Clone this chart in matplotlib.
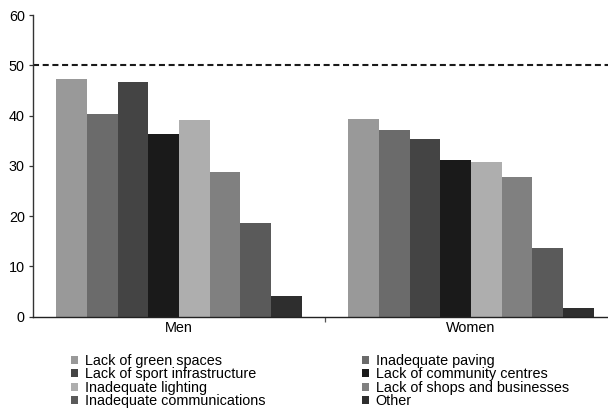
import matplotlib
matplotlib.use("Agg")
import matplotlib.pyplot as plt
import numpy as np

plt.rcParams['font.family'] = ['Liberation Sans', 'DejaVu Sans']

groups = ["Men", "Women"]
series = ["Lack of green spaces", "Inadequate paving", "Lack of sport infrastructure",
          "Lack of community centres", "Inadequate lighting", "Lack of shops and businesses",
          "Inadequate communications", "Other"]
men = [47.3, 40.3, 46.7, 36.3, 39.1, 28.8, 18.6, 4.2]
women = [39.3, 37.1, 35.3, 31.2, 30.8, 27.8, 13.7, 1.7]
colors = ["#999999", "#6b6b6b", "#444444", "#1a1a1a", "#aeaeae", "#808080", "#5a5a5a", "#2e2e2e"]
reference = 50

fig = plt.figure(figsize=(6.08, 4.2), dpi=100)
ax = fig.add_axes([33/608, (420-316.7)/420, (617-33)/608, 301.7/420])

n = len(series)
group_w = 0.842
bw = group_w / n
x = np.arange(len(groups))
vals = np.array([men, women])
handles = []
for i in range(n):
    pos = x - group_w/2 + bw*(i + 0.5)
    b = ax.bar(pos, vals[:, i], width=bw, color=colors[i], edgecolor='none', label=series[i])
    handles.append(b)

ax.axhline(reference, color='#1a1a1a', linestyle=(0, (2.9, 1.75)), linewidth=1.5)

fs = 10.4
ax.set_xlim(-0.5, 1.5)
ax.set_ylim(0, 60)
ax.set_yticks([0, 10, 20, 30, 40, 50, 60])
ax.tick_params(axis='y', labelsize=fs, length=3, width=0.9, direction='out', pad=3,
               color='#333333')
ax.set_xticks([0.5])
ax.set_xticklabels([])
ax.tick_params(axis='x', which='major', length=3.5, width=0.9, direction='out', color='#555555')
ax.set_xticks(x, minor=True)
ax.set_xticklabels(groups, minor=True, fontsize=fs)
ax.tick_params(axis='x', which='minor', length=0, pad=3)
for s in ['top', 'right']:
    ax.spines[s].set_visible(False)
ax.spines['left'].set_color('#333333')
ax.spines['bottom'].set_color('#222222')
ax.spines['left'].set_linewidth(1.0)
ax.spines['bottom'].set_linewidth(1.0)

order = [0, 2, 4, 6, 1, 3, 5, 7]
leg = fig.legend([handles[i] for i in order], [series[i] for i in order], ncol=2,
                 frameon=False, fontsize=fs, loc='upper left',
                 bbox_to_anchor=(58/608, 1 - 341/420), handlelength=0.45, handleheight=0.45,
                 handletextpad=0.5, labelspacing=-0.04, columnspacing=6.7)

fig.savefig("out.png", dpi=100)
